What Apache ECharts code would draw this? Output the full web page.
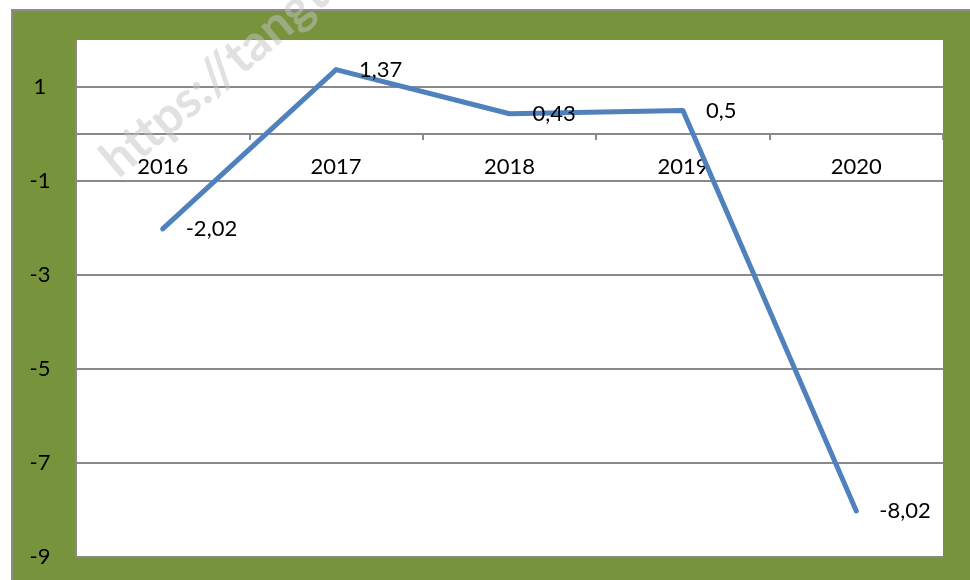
<!DOCTYPE html>
<html>
<head>
<meta charset="utf-8">
<script src="https://cdn.jsdelivr.net/npm/echarts@6/dist/echarts.min.js"></script>
<style>
  html, body { margin: 0; padding: 0; background: #fff; }
  #chart { width: 970px; height: 580px; }
</style>
</head>
<body>
<div id="chart"></div>
<script>
const years = ['2016', '2017', '2018', '2019', '2020'];
const growth = [-2.02, 1.37, 0.43, 0.5, -8.02];

const chart = echarts.init(document.getElementById('chart'));
const font = 'Lato, "Open Sans", sans-serif';

chart.setOption({
  animation: false,
  backgroundColor: '#ffffff',
  graphic: [
    {
      type: 'rect',
      z: -10,
      shape: { x: 12, y: 10, width: 970, height: 580 },
      style: { fill: '#77933C', stroke: '#8c8c8c', lineWidth: 2 }
    },
    {
      type: 'rect',
      z: -9,
      shape: { x: 76, y: 40, width: 867, height: 517 },
      style: { fill: '#ffffff' }
    },
    {
      type: 'text',
      z: 100,
      x: 124,
      y: 186,
      rotation: Math.PI * 40 / 180,
      style: {
        text: 'https://tangthuvien',
        fill: 'rgba(195,195,195,0.5)',
        font: 'bold 50px ' + font,
        textVerticalAlign: 'bottom'
      }
    }
  ],
  grid: { left: 76, top: 40, right: 27, bottom: 23, outerBoundsMode: 'none' },
  xAxis: {
    type: 'category',
    data: years,
    boundaryGap: true,
    offset: -423,
    axisLine: { onZero: false, lineStyle: { color: '#898989', width: 2 } },
    axisTick: { show: true, alignWithLabel: false, length: 6, lineStyle: { color: '#898989', width: 2 } },
    axisLabel: { color: '#000', fontSize: 22, fontFamily: font, margin: 22 },
    splitLine: { show: false }
  },
  yAxis: {
    type: 'value',
    min: -9,
    max: 2,
    interval: 2,
    axisLine: { show: true, lineStyle: { color: '#898989', width: 2 } },
    axisTick: { show: false },
    axisLabel: {
      color: '#000',
      fontSize: 22,
      fontFamily: font,
      align: 'center',
      margin: 36,
      formatter: v => (v === 2 ? '' : String(v))
    },
    splitLine: { show: true, showMaxLine: false, lineStyle: { color: '#898989', width: 2 } }
  },
  series: [
    {
      type: 'line',
      data: growth,
      symbol: 'circle',
      symbolSize: 2,
      showSymbol: true,
      itemStyle: { color: 'rgba(79,129,189,0)' },
      lineStyle: { color: '#4F81BD', width: 5, cap: 'round', join: 'round' },
      labelLayout: { hideOverlap: false },
      label: {
        show: true,
        position: 'right',
        distance: 22,
        offset: [0, 4],
        color: '#000',
        fontSize: 22,
        fontFamily: font,
        formatter: p => String(p.value).replace('.', ',')
      }
    }
  ]
});
</script>
</body>
</html>
